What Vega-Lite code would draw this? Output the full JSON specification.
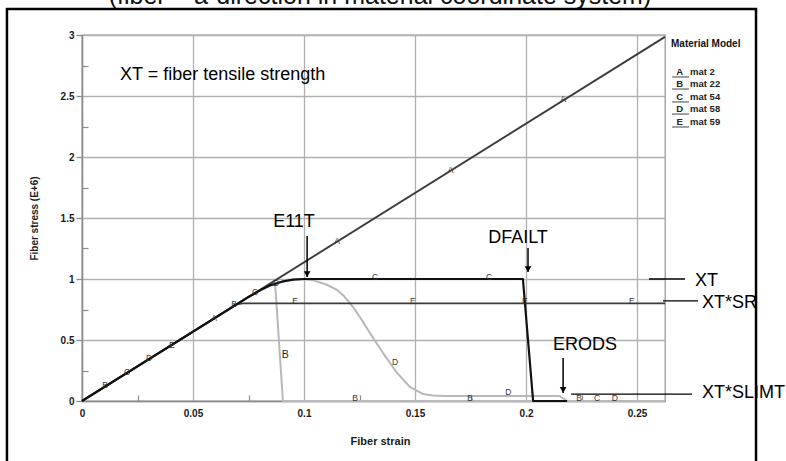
{
  "$schema": "https://vega.github.io/schema/vega-lite/v6.json",
  "width": 583,
  "height": 366,
  "autosize": {"type": "none"},
  "padding": {"left": 82, "top": 35, "right": 121, "bottom": 60},
  "background": "white",
  "config": {"view": {"stroke": "#9a9a9a", "strokeWidth": 1.3}, "font": "Liberation Sans"},
  "resolve": {"axis": {"x": "independent", "y": "independent"}},
  "datasets": {
    "curves": [
      {"c": "A", "x": 0, "y": 0}, {"c": "A", "x": 0.2626, "y": 2.985},
      {"c": "B", "x": 0, "y": 0}, {"c": "B", "x": 0.07, "y": 0.796}, {"c": "B", "x": 0.075, "y": 0.853}, {"c": "B", "x": 0.08, "y": 0.905}, {"c": "B", "x": 0.085, "y": 0.95}, {"c": "B", "x": 0.087, "y": 0.962}, {"c": "B", "x": 0.0905, "y": 0}, {"c": "B", "x": 0.2626, "y": 0},
      {"c": "C", "x": 0, "y": 0}, {"c": "C", "x": 0.07, "y": 0.796}, {"c": "C", "x": 0.075, "y": 0.853}, {"c": "C", "x": 0.08, "y": 0.905}, {"c": "C", "x": 0.085, "y": 0.95}, {"c": "C", "x": 0.09, "y": 0.978}, {"c": "C", "x": 0.095, "y": 0.995}, {"c": "C", "x": 0.1, "y": 1.0}, {"c": "C", "x": 0.1986, "y": 1.0}, {"c": "C", "x": 0.2032, "y": 0}, {"c": "C", "x": 0.2185, "y": 0},
      {"c": "D", "x": 0, "y": 0}, {"c": "D", "x": 0.07, "y": 0.796}, {"c": "D", "x": 0.075, "y": 0.853}, {"c": "D", "x": 0.08, "y": 0.905}, {"c": "D", "x": 0.085, "y": 0.95}, {"c": "D", "x": 0.09, "y": 0.978}, {"c": "D", "x": 0.095, "y": 0.995}, {"c": "D", "x": 0.1, "y": 1.0}, {"c": "D", "x": 0.105, "y": 0.985}, {"c": "D", "x": 0.11, "y": 0.955}, {"c": "D", "x": 0.1149, "y": 0.91}, {"c": "D", "x": 0.118, "y": 0.86}, {"c": "D", "x": 0.1221, "y": 0.77}, {"c": "D", "x": 0.126, "y": 0.665}, {"c": "D", "x": 0.1297, "y": 0.557}, {"c": "D", "x": 0.1356, "y": 0.393}, {"c": "D", "x": 0.1419, "y": 0.23}, {"c": "D", "x": 0.1477, "y": 0.115}, {"c": "D", "x": 0.1536, "y": 0.057}, {"c": "D", "x": 0.158, "y": 0.045}, {"c": "D", "x": 0.163, "y": 0.041}, {"c": "D", "x": 0.215, "y": 0.041}, {"c": "D", "x": 0.2185, "y": 0}, {"c": "D", "x": 0.2626, "y": 0},
      {"c": "E", "x": 0, "y": 0}, {"c": "E", "x": 0.066, "y": 0.75}, {"c": "E", "x": 0.069, "y": 0.79}, {"c": "E", "x": 0.0725, "y": 0.8}, {"c": "E", "x": 0.2626, "y": 0.8}
    ],
    "letters": [
      {"t": "A", "x": 0.0595, "y": 0.68}, {"t": "A", "x": 0.1149, "y": 1.311}, {"t": "A", "x": 0.166, "y": 1.893}, {"t": "A", "x": 0.2167, "y": 2.475},
      {"t": "B", "x": 0.0104, "y": 0.13}, {"t": "B", "x": 0.0685, "y": 0.795}, {"t": "B", "x": 0.123, "y": 0.025}, {"t": "B", "x": 0.1748, "y": 0.025}, {"t": "B", "x": 0.2239, "y": 0.025},
      {"t": "C", "x": 0.0203, "y": 0.24}, {"t": "C", "x": 0.078, "y": 0.89}, {"t": "C", "x": 0.132, "y": 1.02}, {"t": "C", "x": 0.1833, "y": 1.02}, {"t": "C", "x": 0.232, "y": 0.025},
      {"t": "D", "x": 0.0302, "y": 0.355}, {"t": "D", "x": 0.0874, "y": 0.967}, {"t": "D", "x": 0.141, "y": 0.32}, {"t": "D", "x": 0.192, "y": 0.074}, {"t": "D", "x": 0.24, "y": 0.025},
      {"t": "E", "x": 0.0405, "y": 0.46}, {"t": "E", "x": 0.096, "y": 0.82}, {"t": "E", "x": 0.149, "y": 0.82}, {"t": "E", "x": 0.1995, "y": 0.82}, {"t": "E", "x": 0.2477, "y": 0.82}
    ],
    "bigletters": [{"t": "B", "x": 0.0915, "y": 0.377}],
    "notesCenter": [
      {"t": "E11T", "x": 0.0955, "y": 1.467},
      {"t": "DFAILT", "x": 0.1964, "y": 1.336},
      {"t": "ERODS", "x": 0.2266, "y": 0.459}
    ],
    "notesLeft": [
      {"t": "XT = fiber tensile strength", "x": 0.0171, "y": 2.672},
      {"t": "XT", "x": 0.2761, "y": 0.984},
      {"t": "XT*SR", "x": 0.2793, "y": 0.803},
      {"t": "XT*SLIMT", "x": 0.2793, "y": 0.066}
    ],
    "arrows": [
      {"x": 0.1014, "y": 1.352, "y2": 1.016},
      {"x": 0.2009, "y": 1.254, "y2": 1.057},
      {"x": 0.2167, "y": 0.352, "y2": 0.066}
    ],
    "leaders": [
      {"x": 0.2554, "x2": 0.2716, "y": 1.0},
      {"x": 0.2617, "x2": 0.2775, "y": 0.82},
      {"x": 0.2203, "x2": 0.2748, "y": 0.057}
    ],
    "legend": [
      {"k": "A", "m": "mat 2", "y": 2.697},
      {"k": "B", "m": "mat 22", "y": 2.598},
      {"k": "C", "m": "mat 54", "y": 2.492},
      {"k": "D", "m": "mat 58", "y": 2.393},
      {"k": "E", "m": "mat 59", "y": 2.287}
    ],
    "legendTitle": [{"t": "Material Model", "x": 0.2653, "y": 2.926}],
    "title": [{"t": "(fiber = a-direction in material coordinate system)", "x": 0.1342, "y": 3.254}],
    "frame": [{"x": -0.0338, "x2": 0.3036, "y": 3.213, "y2": -0.6}]
  },
  "layer": [
    {
      "data": {"name": "curves"},
      "transform": [{"filter": "datum.c === 'B' || datum.c === 'D'"}],
      "mark": {"type": "line", "strokeWidth": 2, "color": "#b8b8b8", "strokeJoin": "round"},
      "encoding": {
        "x": {"field": "x", "type": "quantitative", "scale": {"domain": [0, 0.2626], "nice": false, "zero": false},
          "axis": {"orient": "bottom", "values": [0, 0.05, 0.1, 0.15, 0.2, 0.25], "format": "~g", "grid": true, "gridColor": "#b0b0b0", "gridWidth": 1.3, "ticks": false, "domainColor": "#8c8c8c", "domainWidth": 1.5, "labelFont": "Liberation Sans", "labelFontWeight": "bold", "labelFontSize": 10, "labelColor": "#1a1a1a", "labelPadding": 7, "labelFlush": false, "labelOverlap": false, "title": "Fiber strain", "titleFont": "Liberation Sans", "titleFontSize": 11, "titleFontWeight": "bold", "titleColor": "#1a1a1a", "titleX": 298, "titleY": 40, "titleBaseline": "middle", "titleAlign": "center"}},
        "y": {"field": "y", "type": "quantitative", "scale": {"domain": [0, 3], "nice": false, "zero": false},
          "axis": {"orient": "left", "values": [0, 0.5, 1, 1.5, 2, 2.5, 3], "format": "~g", "grid": true, "gridColor": "#b0b0b0", "gridWidth": 1.3, "ticks": true, "tickSize": 6, "tickColor": "#8c8c8c", "tickWidth": 1.3, "domainColor": "#8c8c8c", "domainWidth": 1.5, "labelFont": "Liberation Sans", "labelFontWeight": "bold", "labelFontSize": 10, "labelColor": "#1a1a1a", "labelPadding": 2, "labelFlush": false, "labelOverlap": false, "title": "Fiber stress (E+6)", "titleFont": "Liberation Sans", "titleFontSize": 10, "titleFontWeight": "bold", "titleColor": "#1a1a1a", "titleX": -48, "titleY": 183, "titleAngle": 270, "titleBaseline": "middle", "titleAlign": "center"}},
        "detail": {"field": "c"}
      }
    },
    {
      "data": {"name": "curves"},
      "transform": [{"filter": "datum.c === 'A' || datum.c === 'E'"}],
      "mark": {"type": "line", "strokeWidth": 1.9, "color": "#3c3c3c", "strokeJoin": "round"},
      "encoding": {
        "x": {"field": "x", "type": "quantitative", "scale": {"domain": [0, 0.2626], "nice": false, "zero": false},
          "axis": {"orient": "bottom", "values": [0.025, 0.075, 0.125, 0.175, 0.225], "labels": false, "grid": false, "domain": false, "ticks": true, "tickSize": -6, "tickColor": "#8c8c8c", "tickWidth": 1.2, "title": null}},
        "y": {"field": "y", "type": "quantitative", "scale": {"domain": [0, 3], "nice": false, "zero": false},
          "axis": {"orient": "left", "values": [0.25, 0.75, 1.25, 1.75, 2.25, 2.75], "labels": false, "grid": false, "domain": false, "ticks": true, "tickSize": -6, "tickColor": "#8c8c8c", "tickWidth": 1.2, "title": null}},
        "detail": {"field": "c"}
      }
    },
    {
      "data": {"name": "curves"},
      "transform": [{"filter": "datum.c === 'C'"}],
      "mark": {"type": "line", "strokeWidth": 2.2, "color": "#111111", "strokeJoin": "round"},
      "encoding": {
        "x": {"field": "x", "type": "quantitative", "scale": {"domain": [0, 0.2626], "nice": false, "zero": false}, "axis": null},
        "y": {"field": "y", "type": "quantitative", "scale": {"domain": [0, 3], "nice": false, "zero": false}, "axis": null}
      }
    },
    {
      "data": {"name": "letters"},
      "mark": {"type": "text", "fontSize": 8.5, "color": "#333333", "align": "center", "baseline": "middle", "font": "Liberation Sans"},
      "encoding": {
        "x": {"field": "x", "type": "quantitative", "scale": {"domain": [0, 0.2626], "nice": false, "zero": false}, "axis": null},
        "y": {"field": "y", "type": "quantitative", "scale": {"domain": [0, 3], "nice": false, "zero": false}, "axis": null},
        "text": {"field": "t"}
      }
    },
    {
      "data": {"name": "bigletters"},
      "mark": {"type": "text", "fontSize": 10.5, "color": "#222222", "align": "center", "baseline": "middle", "font": "Liberation Sans"},
      "encoding": {
        "x": {"field": "x", "type": "quantitative", "scale": {"domain": [0, 0.2626], "nice": false, "zero": false}, "axis": null},
        "y": {"field": "y", "type": "quantitative", "scale": {"domain": [0, 3], "nice": false, "zero": false}, "axis": null},
        "text": {"field": "t"}
      }
    },
    {
      "data": {"name": "notesCenter"},
      "mark": {"type": "text", "fontSize": 18, "color": "#000000", "align": "center", "baseline": "middle", "font": "Liberation Sans"},
      "encoding": {
        "x": {"field": "x", "type": "quantitative", "scale": {"domain": [0, 0.2626], "nice": false, "zero": false}, "axis": null},
        "y": {"field": "y", "type": "quantitative", "scale": {"domain": [0, 3], "nice": false, "zero": false}, "axis": null},
        "text": {"field": "t"}
      }
    },
    {
      "data": {"name": "notesLeft"},
      "mark": {"type": "text", "fontSize": 18, "color": "#000000", "align": "left", "baseline": "middle", "font": "Liberation Sans"},
      "encoding": {
        "x": {"field": "x", "type": "quantitative", "scale": {"domain": [0, 0.2626], "nice": false, "zero": false}, "axis": null},
        "y": {"field": "y", "type": "quantitative", "scale": {"domain": [0, 3], "nice": false, "zero": false}, "axis": null},
        "text": {"field": "t"}
      }
    },
    {
      "data": {"name": "arrows"},
      "mark": {"type": "rule", "color": "#000000", "strokeWidth": 1.5},
      "encoding": {
        "x": {"field": "x", "type": "quantitative", "scale": {"domain": [0, 0.2626], "nice": false, "zero": false}, "axis": null},
        "y": {"field": "y", "type": "quantitative", "scale": {"domain": [0, 3], "nice": false, "zero": false}, "axis": null},
        "y2": {"field": "y2"}
      }
    },
    {
      "data": {"name": "arrows"},
      "mark": {"type": "point", "shape": "triangle-down", "filled": true, "color": "#000000", "size": 45, "opacity": 1, "yOffset": -3},
      "encoding": {
        "x": {"field": "x", "type": "quantitative", "scale": {"domain": [0, 0.2626], "nice": false, "zero": false}, "axis": null},
        "y": {"field": "y2", "type": "quantitative", "scale": {"domain": [0, 3], "nice": false, "zero": false}, "axis": null}
      }
    },
    {
      "data": {"name": "leaders"},
      "mark": {"type": "rule", "color": "#000000", "strokeWidth": 1.3},
      "encoding": {
        "x": {"field": "x", "type": "quantitative", "scale": {"domain": [0, 0.2626], "nice": false, "zero": false}, "axis": null},
        "x2": {"field": "x2"},
        "y": {"field": "y", "type": "quantitative", "scale": {"domain": [0, 3], "nice": false, "zero": false}, "axis": null}
      }
    },
    {
      "data": {"name": "legendTitle"},
      "mark": {"type": "text", "fontSize": 10, "fontWeight": "bold", "color": "#111111", "align": "left", "baseline": "middle", "font": "Liberation Sans"},
      "encoding": {
        "x": {"field": "x", "type": "quantitative", "scale": {"domain": [0, 0.2626], "nice": false, "zero": false}, "axis": null},
        "y": {"field": "y", "type": "quantitative", "scale": {"domain": [0, 3], "nice": false, "zero": false}, "axis": null},
        "text": {"field": "t"}
      }
    },
    {
      "data": {"name": "legend"},
      "mark": {"type": "text", "fontSize": 9.5, "fontWeight": "bold", "color": "#222222", "align": "center", "baseline": "middle", "font": "Liberation Sans"},
      "encoding": {
        "x": {"datum": 0.2692, "type": "quantitative", "scale": {"domain": [0, 0.2626], "nice": false, "zero": false}, "axis": null},
        "y": {"field": "y", "type": "quantitative", "scale": {"domain": [0, 3], "nice": false, "zero": false}, "axis": null},
        "text": {"field": "k"}
      }
    },
    {
      "data": {"name": "legend"},
      "mark": {"type": "text", "fontSize": 9.5, "fontWeight": "bold", "color": "#222222", "align": "left", "baseline": "middle", "font": "Liberation Sans"},
      "encoding": {
        "x": {"datum": 0.2739, "type": "quantitative", "scale": {"domain": [0, 0.2626], "nice": false, "zero": false}, "axis": null},
        "y": {"field": "y", "type": "quantitative", "scale": {"domain": [0, 3], "nice": false, "zero": false}, "axis": null},
        "text": {"field": "m"}
      }
    },
    {
      "data": {"name": "legend"},
      "mark": {"type": "rule", "color": "#444444", "strokeWidth": 1, "yOffset": 5},
      "encoding": {
        "x": {"datum": 0.2658, "type": "quantitative", "scale": {"domain": [0, 0.2626], "nice": false, "zero": false}, "axis": null},
        "x2": {"datum": 0.2734},
        "y": {"field": "y", "type": "quantitative", "scale": {"domain": [0, 3], "nice": false, "zero": false}, "axis": null}
      }
    },
    {
      "data": {"name": "title"},
      "mark": {"type": "text", "fontSize": 25, "color": "#111111", "align": "center", "baseline": "alphabetic", "font": "Liberation Sans"},
      "encoding": {
        "x": {"field": "x", "type": "quantitative", "scale": {"domain": [0, 0.2626], "nice": false, "zero": false}, "axis": null},
        "y": {"field": "y", "type": "quantitative", "scale": {"domain": [0, 3], "nice": false, "zero": false}, "axis": null},
        "text": {"field": "t"}
      }
    },
    {
      "data": {"name": "frame"},
      "mark": {"type": "rect", "fillOpacity": 0, "stroke": "#000000", "strokeWidth": 2.5},
      "encoding": {
        "x": {"field": "x", "type": "quantitative", "scale": {"domain": [0, 0.2626], "nice": false, "zero": false}, "axis": null},
        "x2": {"field": "x2"},
        "y": {"field": "y", "type": "quantitative", "scale": {"domain": [0, 3], "nice": false, "zero": false}, "axis": null},
        "y2": {"field": "y2"}
      }
    }
  ]
}
